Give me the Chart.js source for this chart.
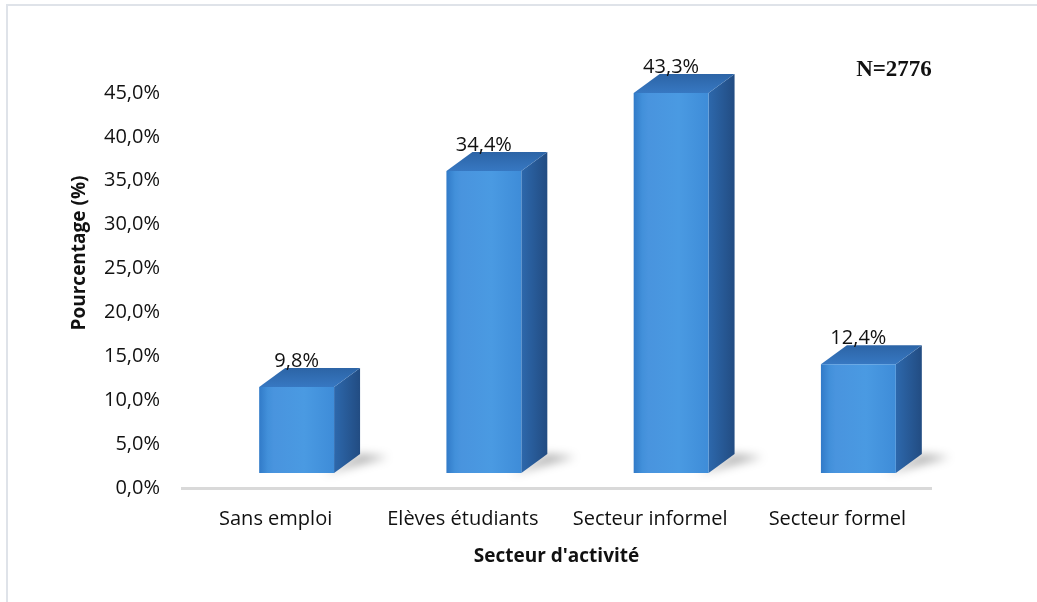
<!DOCTYPE html>
<html lang="fr">
<head>
<meta charset="utf-8">
<script src="https://cdn.jsdelivr.net/npm/chart.js@4"></script>
<style>
    html, body { margin: 0; padding: 0; background: #fff; }
    #wrap { position: relative; width: 1037px; height: 602px; }
</style>
</head>
<body>
<div id="wrap"><canvas id="myChart"></canvas></div>
<script>
// Répartition par secteur d'activité
const secteurs = ['Sans emploi', 'Elèves étudiants', 'Secteur informel', 'Secteur formel'];
const pourcentages = [9.8, 34.4, 43.3, 12.4];
const graduations = [0, 5, 10, 15, 20, 25, 30, 35, 40, 45];
const effectif = 'N=2776';
const titreY = 'Pourcentage (%)';

// décalage de la face avant et profondeur du relief (px)
const DX = 21, DY = -15;
const PX = 26, PY = -19;

function fmt(v, d) {
    return v.toFixed(d).replace('.', ',') + '%';
}

const relief = {
    id: 'relief',
    beforeDraw(chart) {
        const ctx = chart.ctx;
        ctx.save();
        ctx.strokeStyle = '#dfe3e9';
        ctx.lineWidth = 2;
        ctx.beginPath();
        ctx.moveTo(7, chart.height);
        ctx.lineTo(7, 5);
        ctx.lineTo(chart.width, 5);
        ctx.stroke();
        ctx.restore();
    },
    beforeDatasetsDraw(chart) {
        const ctx = chart.ctx;
        ctx.save();
        ctx.translate(DX, DY);
        chart.getDatasetMeta(0).data.forEach(bar => {
            const l = bar.x - bar.width / 2, r = bar.x + bar.width / 2;
            const t = bar.y, b = bar.base;

            // ombre portée sur le sol
            ctx.save();
            ctx.filter = 'blur(5px)';
            ctx.fillStyle = 'rgba(0, 0, 0, 0.3)';
            ctx.beginPath();
            ctx.moveTo(r - 10, b + 1);
            ctx.lineTo(r + PX + 28, b + PY + 3);
            ctx.lineTo(r + PX, b + PY);
            ctx.closePath();
            ctx.fill();
            ctx.restore();

            // face latérale
            let g = ctx.createLinearGradient(r, 0, r + PX, 0);
            g.addColorStop(0, '#2d68ac');
            g.addColorStop(1, '#224c82');
            ctx.fillStyle = g;
            ctx.beginPath();
            ctx.moveTo(r, t);
            ctx.lineTo(r + PX, t + PY);
            ctx.lineTo(r + PX, b + PY);
            ctx.lineTo(r, b);
            ctx.closePath();
            ctx.fill();

            // dessus
            g = ctx.createLinearGradient(0, t, 0, t + PY);
            g.addColorStop(0, '#3778c2');
            g.addColorStop(1, '#2c64a6');
            ctx.fillStyle = g;
            ctx.beginPath();
            ctx.moveTo(l, t);
            ctx.lineTo(l + PX, t + PY);
            ctx.lineTo(r + PX, t + PY);
            ctx.lineTo(r, t);
            ctx.closePath();
            ctx.fill();
        });
    },
    afterDatasetsDraw(chart) {
        const ctx = chart.ctx;
        ctx.restore();

        // valeurs au-dessus des barres
        ctx.save();
        ctx.font = "20px 'Open Sans', sans-serif";
        ctx.fillStyle = '#111';
        ctx.textAlign = 'center';
        ctx.textBaseline = 'middle';
        chart.getDatasetMeta(0).data.forEach((bar, i) => {
            ctx.fillText(fmt(pourcentages[i], 1), bar.x + DX, bar.y + DY - 26);
        });

        ctx.font = "bold 23px 'Liberation Serif', serif";
        ctx.fillText(effectif, 894, 70);

        // titre de l'axe vertical, centré sur le bloc 3D
        ctx.translate(80, 253);
        ctx.rotate(-Math.PI / 2);
        ctx.font = "bold 19px 'Open Sans', sans-serif";
        ctx.fillText(titreY, 0, 0);
        ctx.restore();
    }
};

function faceAvant(c) {
    const x = c.chart.scales.x;
    const cx = x ? x.getPixelForValue(c.dataIndex) : NaN;
    if (!isFinite(cx)) return '#3d8ad6';
    const g = c.chart.ctx.createLinearGradient(cx - 38, 0, cx + 38, 0);
    g.addColorStop(0, '#3079c7');
    g.addColorStop(0.12, '#4290da');
    g.addColorStop(0.2, '#4994de');
    g.addColorStop(0.6, '#4a9ae2');
    g.addColorStop(1, '#3e8cd8');
    return g;
}

Chart.defaults.font.family = "'Open Sans', sans-serif";
Chart.defaults.color = '#111';

const ctx = document.getElementById('myChart').getContext('2d');
const myChart = new Chart(ctx, {
    type: 'bar',
    data: {
        labels: secteurs,
        datasets: [{
            data: pourcentages,
            backgroundColor: faceAvant,
            borderWidth: 0,
            barPercentage: 0.4,
            categoryPercentage: 1,
            clip: false
        }]
    },
    options: {
        responsive: true,
        maintainAspectRatio: false,
        animation: false,
        layout: {
            padding: { left: 64, right: 106, top: 93, bottom: 30 }
        },
        plugins: {
            legend: { display: false },
            tooltip: { enabled: false }
        },
        scales: {
            x: {
                grid: { display: false, drawTicks: false },
                border: { display: true, color: '#d9d9d9', width: 3 },
                ticks: { padding: 19, font: { size: 20 }, color: '#111' },
                title: {
                    display: true,
                    text: "Secteur d'activité",
                    font: { size: 19, weight: 'bold' },
                    color: '#111'
                },
                afterFit(scale) { scale.height = 84; }
            },
            y: {
                min: 0,
                max: 45,
                grid: { display: false, drawTicks: false },
                border: { display: false },
                afterBuildTicks(scale) {
                    scale.ticks = graduations.map(v => ({ value: v }));
                },
                ticks: {
                    padding: 22,
                    font: { size: 20 },
                    color: '#111',
                    callback: v => fmt(v, 1)
                },
                title: { display: false },
                afterFit(scale) { scale.width = 118; }
            }
        }
    },
    plugins: [relief]
});
</script>
</body>
</html>
